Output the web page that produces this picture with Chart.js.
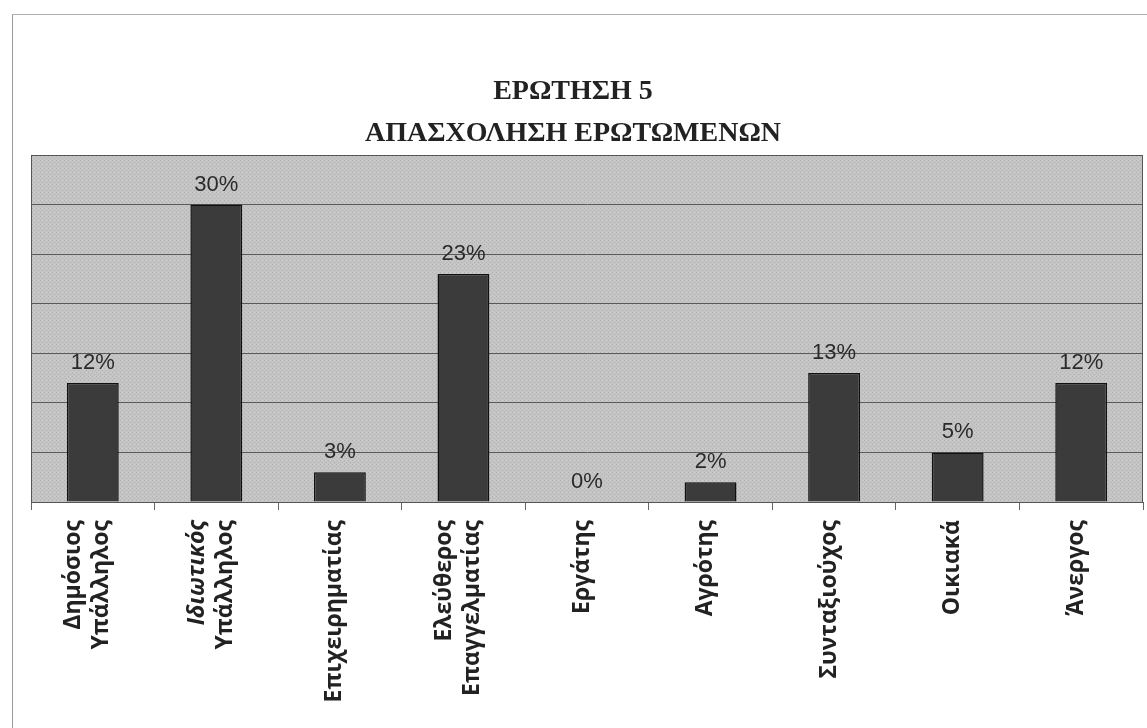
<!DOCTYPE html>
<html lang="el">
<head>
  <meta charset="UTF-8" />
  <title>Ερώτηση 5 - Απασχόληση ερωτώμενων</title>
  <script src="https://cdn.jsdelivr.net/npm/chart.js"></script>
  <style>
    html, body { margin: 0; padding: 0; background: #fff; }
    #frame {
      position: absolute; left: 12px; top: 14px; width: 1135px; height: 714px;
      border-left: 1px solid #9a9a9a; border-top: 1px solid #b0b0b0;
    }
    #wrap { position: absolute; left: 0; top: 0; width: 1147px; height: 728px; }
  </style>
</head>
<body>
  <div id="frame"></div>
  <div id="wrap"><canvas id="chart"></canvas></div>

  <script>
    // Δεδομένα
    const titleLines = ["ΕΡΩΤΗΣΗ 5", "ΑΠΑΣΧΟΛΗΣΗ ΕΡΩΤΩΜΕΝΩΝ"];
    const categories = [
      ["Δημόσιος", "Υπάλληλος"],
      ["Ιδιωτικός", "Υπάλληλος"],
      "Επιχειρηματίας",
      ["Ελεύθερος", "Επαγγελματίας"],
      "Εργάτης",
      "Αγρότης",
      "Συνταξιούχος",
      "Οικιακά",
      "Άνεργος"
    ];
    const percentages = [12, 30, 3, 23, 0, 2, 13, 5, 12];
    const italicWords = ["Ιδιωτικός"];

    // γκρι φόντο με κουκκίδες (σαν το σκαναρισμένο μοτίβο)
    function makePattern() {
      const c = document.createElement("canvas");
      c.width = 4; c.height = 4;
      const g = c.getContext("2d");
      g.fillStyle = "#c4c4c4";
      g.fillRect(0, 0, 4, 4);
      g.fillStyle = "#b2b2b2";
      g.fillRect(0, 0, 1, 1);
      g.fillRect(2, 2, 1, 1);
      g.fillStyle = "#cfcfcf";
      g.fillRect(2, 0, 1, 1);
      return g.createPattern(c, "repeat");
    }

    const plotBackground = {
      id: "plotBackground",
      beforeDraw(chart) {
        const { ctx, chartArea: a } = chart;
        ctx.save();
        ctx.fillStyle = makePattern();
        ctx.fillRect(a.left, a.top, a.right - a.left, a.bottom - a.top);
        ctx.restore();
      },
      afterDraw(chart) {
        const { ctx, chartArea: a } = chart;
        ctx.save();
        ctx.strokeStyle = "#555";
        ctx.lineWidth = 1;
        ctx.strokeRect(a.left + 0.5, a.top + 0.5, a.right - a.left - 1, a.bottom - a.top);
        ctx.restore();
      }
    };

    // τίτλος, λίγο αριστερά του κέντρου όπως στο πρωτότυπο
    const chartTitle = {
      id: "chartTitle",
      afterDraw(chart) {
        const { ctx } = chart;
        ctx.save();
        ctx.font = "bold 28px 'Liberation Serif', 'Times New Roman', serif";
        ctx.fillStyle = "#222";
        ctx.textAlign = "center";
        ctx.textBaseline = "middle";
        titleLines.forEach((t, i) => ctx.fillText(t, 573, 92 + i * 42));
        ctx.restore();
      }
    };

    const valueLabels = {
      id: "valueLabels",
      afterDatasetsDraw(chart) {
        const { ctx } = chart;
        const meta = chart.getDatasetMeta(0);
        ctx.save();
        ctx.font = "22px 'Liberation Sans', Arial, sans-serif";
        ctx.fillStyle = "#2a2a2a";
        ctx.textAlign = "center";
        ctx.textBaseline = "bottom";
        meta.data.forEach((bar, i) => {
          ctx.fillText(percentages[i] + "%", bar.x, bar.y - 9);
        });
        ctx.restore();
      }
    };

    // κάθετες ετικέτες κατηγοριών, κεντραρισμένες κάτω από κάθε τικ
    const categoryLabels = {
      id: "categoryLabels",
      afterDraw(chart) {
        const { ctx } = chart;
        const scale = chart.scales.x;
        const lh = 28;
        ctx.save();
        ctx.fillStyle = "#222";
        ctx.textAlign = "right";
        ctx.textBaseline = "middle";
        categories.forEach((label, i) => {
          const lines = Array.isArray(label) ? label : [label];
          const x = scale.getPixelForTick(i) - 5;
          const y = scale.top + 18;
          lines.forEach((line, j) => {
            const style = italicWords.includes(line) ? "italic " : "";
            ctx.font = style + "bold 23px 'Open Sans', sans-serif";
            ctx.save();
            ctx.translate(x + (j - (lines.length - 1) / 2) * lh, y);
            ctx.rotate(-Math.PI / 2);
            ctx.fillText(line, 0, 0);
            ctx.restore();
          });
        });
        ctx.restore();
      }
    };

    new Chart(document.getElementById("chart"), {
      type: "bar",
      data: {
        labels: categories,
        datasets: [{
          data: percentages,
          backgroundColor: "#3b3b3b",
          borderColor: "#111",
          borderWidth: 1.5,
          barPercentage: 0.42,
          categoryPercentage: 1
        }]
      },
      options: {
        responsive: true,
        maintainAspectRatio: false,
        animation: false,
        layout: { padding: { left: 31, right: 4, top: 155, bottom: 0 } },
        plugins: {
          legend: { display: false },
          tooltip: { enabled: false },
          title: { display: false }
        },
        scales: {
          x: {
            grid: { drawOnChartArea: false, drawTicks: true, tickLength: 8, color: "#666" },
            border: { color: "#555" },
            ticks: { display: false, autoSkip: false },
            afterFit(scale) { scale.height = 226; }
          },
          y: {
            min: 0,
            max: 35,
            ticks: { display: false, stepSize: 5 },
            grid: { color: "#5a5a5a", lineWidth: 1, drawTicks: false },
            border: { display: true, color: "#555" }
          }
        }
      },
      plugins: [plotBackground, chartTitle, valueLabels, categoryLabels]
    });
  </script>
</body>
</html>
